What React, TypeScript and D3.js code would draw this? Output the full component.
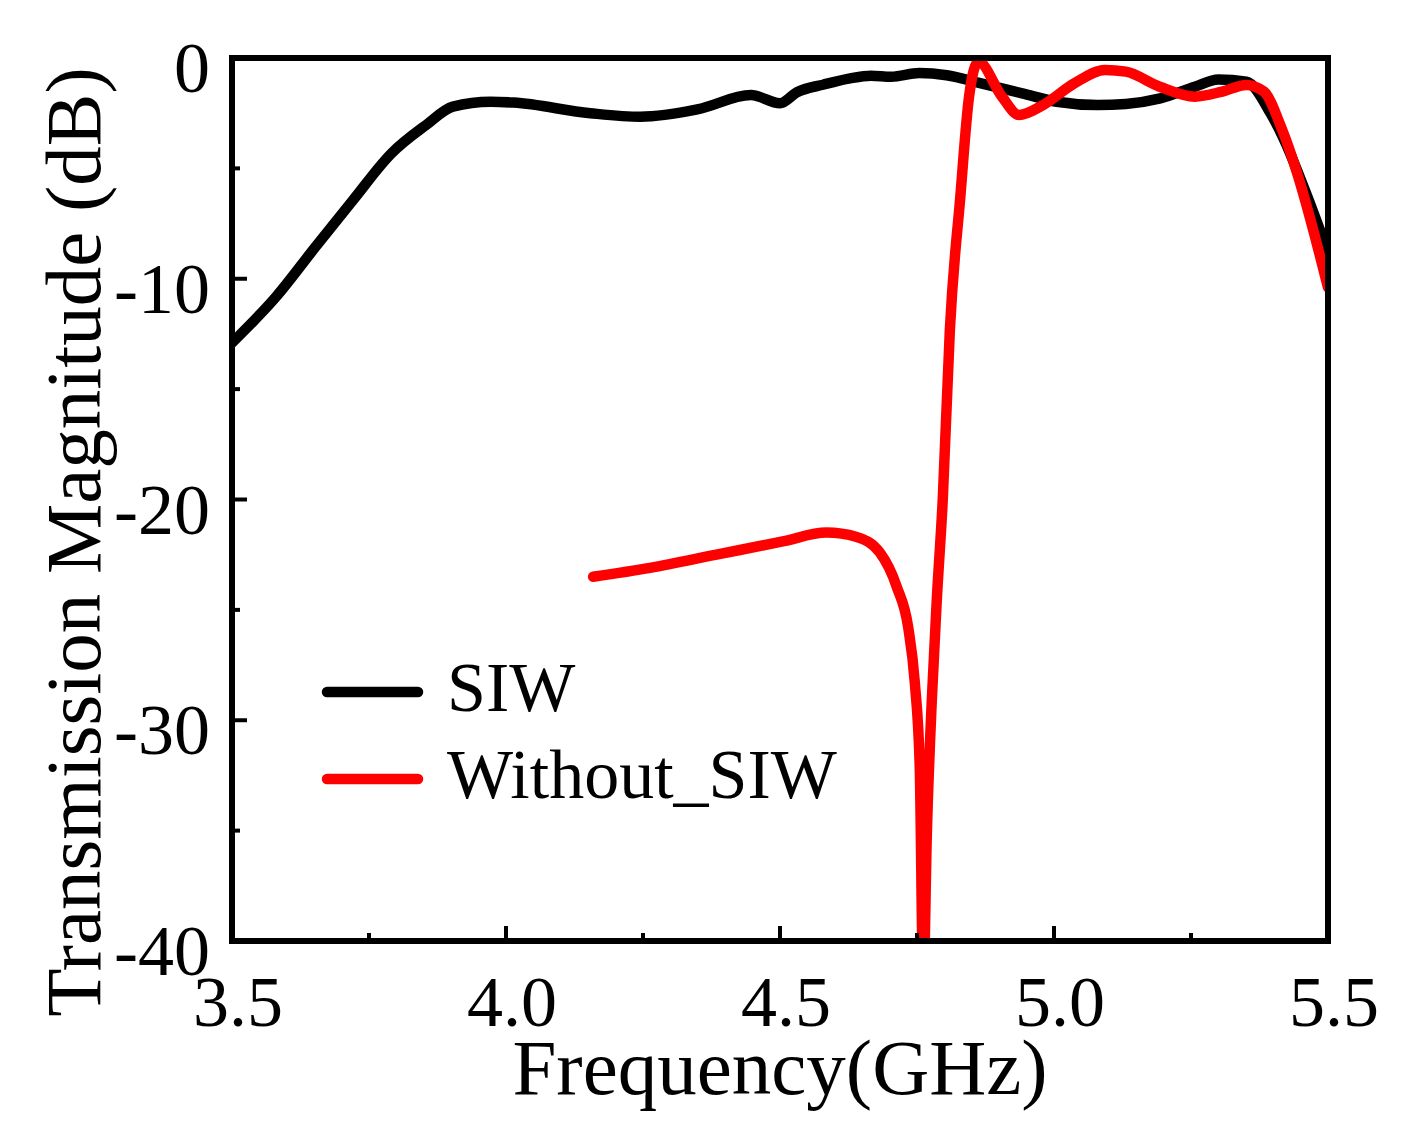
import React from "react";
import * as d3 from "d3";

// SIW response (GHz, dB)
const siwFreq = [3.5, 3.581, 3.651, 3.721, 3.791, 3.854, 3.903, 3.972, 4.014, 4.154, 4.245, 4.349, 4.447, 4.5, 4.531, 4.58, 4.628, 4.666, 4.703, 4.754, 4.804, 4.867, 4.942, 5.005, 5.08, 5.131, 5.194, 5.257, 5.3, 5.351, 5.395, 5.42, 5.458, 5.5];
const siwDb = [-12.9, -10.8, -8.6, -6.43, -4.32, -3.04, -2.2, -1.98, -2.02, -2.5, -2.66, -2.33, -1.68, -2.05, -1.55, -1.2, -0.92, -0.8, -0.85, -0.68, -0.78, -1.15, -1.6, -1.98, -2.13, -2.08, -1.83, -1.3, -0.97, -1.07, -2.5, -3.7, -6.0, -8.8];

// Without SIW response
const noSiwFreq = [4.159, 4.263, 4.384, 4.505, 4.585, 4.64, 4.682, 4.713, 4.734, 4.746, 4.755, 4.7615, 4.768, 4.777, 4.786, 4.797, 4.81, 4.829, 4.845, 4.862, 4.905, 4.936, 4.98, 5.037, 5.093, 5.131, 5.193, 5.257, 5.307, 5.351, 5.383, 5.414, 5.446, 5.471, 5.5];
const noSiwDb = [-23.5, -23.1, -22.5, -21.9, -21.5, -21.7, -22.4, -23.95, -25.8, -28.3, -32.1, -42, -35.1, -29.1, -24.6, -20, -12.3, -6.3, -1.75, -0.17, -1.75, -2.58, -2.13, -1.15, -0.54, -0.62, -1.3, -1.75, -1.52, -1.22, -1.52, -3.1, -5.4, -7.6, -10.4];

const xMajor = [3.5, 4.0, 4.5, 5.0, 5.5];
const xMinor = [3.75, 4.25, 4.75, 5.25];
const yMajor = [0, -10, -20, -30, -40];
const yMinor = [-5, -15, -25, -35];

const series = [
  { name: "SIW", color: "#000000", freq: siwFreq, db: siwDb },
  { name: "Without_SIW", color: "#ff0000", freq: noSiwFreq, db: noSiwDb },
];

const W = 1423;
const H = 1144;
const left = 232, right = 1328, top = 58, bottom = 941;
const FONT = "'Liberation Serif', 'Times New Roman', serif";

export default function App() {
  const x = d3.scaleLinear().domain([3.5, 5.5]).range([left, right]);
  const y = d3.scaleLinear().domain([-40, 0]).range([bottom, top]);

  const line = d3
    .line<[number, number]>()
    .x((d) => x(d[0]))
    .y((d) => y(d[1]))
    .curve(d3.curveMonotoneX);

  return (
    <svg width={W} height={H} style={{ position: "absolute", left: 0, top: 0, background: "#fff" }}>
      <defs>
        <clipPath id="plot">
          <rect x={left} y={top} width={right - left} height={bottom - top} />
        </clipPath>
      </defs>

      <g clipPath="url(#plot)">
        {series.map((s) => (
          <path
            key={s.name}
            d={line(s.freq.map((f, i) => [f, s.db[i]] as [number, number])) || ""}
            fill="none"
            stroke={s.color}
            strokeWidth={10.5}
            strokeLinejoin="round"
            strokeLinecap="round"
          />
        ))}
      </g>

      {/* frame */}
      <rect x={left} y={top} width={right - left} height={bottom - top} fill="none" stroke="#000" strokeWidth={6} />

      {/* x ticks */}
      {xMajor.map((t) => (
        <line key={"xM" + t} x1={x(t)} x2={x(t)} y1={bottom} y2={bottom - 15} stroke="#000" strokeWidth={4} />
      ))}
      {xMinor.map((t) => (
        <line key={"xm" + t} x1={x(t)} x2={x(t)} y1={bottom} y2={bottom - 8} stroke="#000" strokeWidth={4} />
      ))}
      {xMajor.map((t) => (
        <text key={"xl" + t} x={x(t) + 6} y={1026} fontFamily={FONT} fontSize={72} textAnchor="middle">
          {t.toFixed(1)}
        </text>
      ))}

      {/* y ticks */}
      {yMajor.map((t) => (
        <line key={"yM" + t} x1={left} x2={left + 15} y1={y(t)} y2={y(t)} stroke="#000" strokeWidth={4} />
      ))}
      {yMinor.map((t) => (
        <line key={"ym" + t} x1={left} x2={left + 8} y1={y(t)} y2={y(t)} stroke="#000" strokeWidth={4} />
      ))}
      {yMajor.map((t) => (
        <text key={"yl" + t} x={210} y={y(t) + 34} fontFamily={FONT} fontSize={72} textAnchor="end">
          {t === 0 ? "0" : String(t)}
        </text>
      ))}

      {/* axis titles */}
      <text x={780} y={1094} fontFamily={FONT} fontSize={79} textAnchor="middle">
        Frequency(GHz)
      </text>
      <text
        transform="translate(100,542) rotate(-90)"
        fontFamily={FONT}
        fontSize={79}
        textAnchor="middle"
      >
        Transmission Magnitude (dB)
      </text>

      {/* legend */}
      {series.map((s, i) => (
        <g key={"lg" + s.name} transform={`translate(0,${i * 87})`}>
          <line x1={327} x2={418} y1={692} y2={692} stroke={s.color} strokeWidth={10.5} strokeLinecap="round" />
          <text x={447} y={711} fontFamily={FONT} fontSize={70}>
            {s.name}
          </text>
        </g>
      ))}
    </svg>
  );
}
